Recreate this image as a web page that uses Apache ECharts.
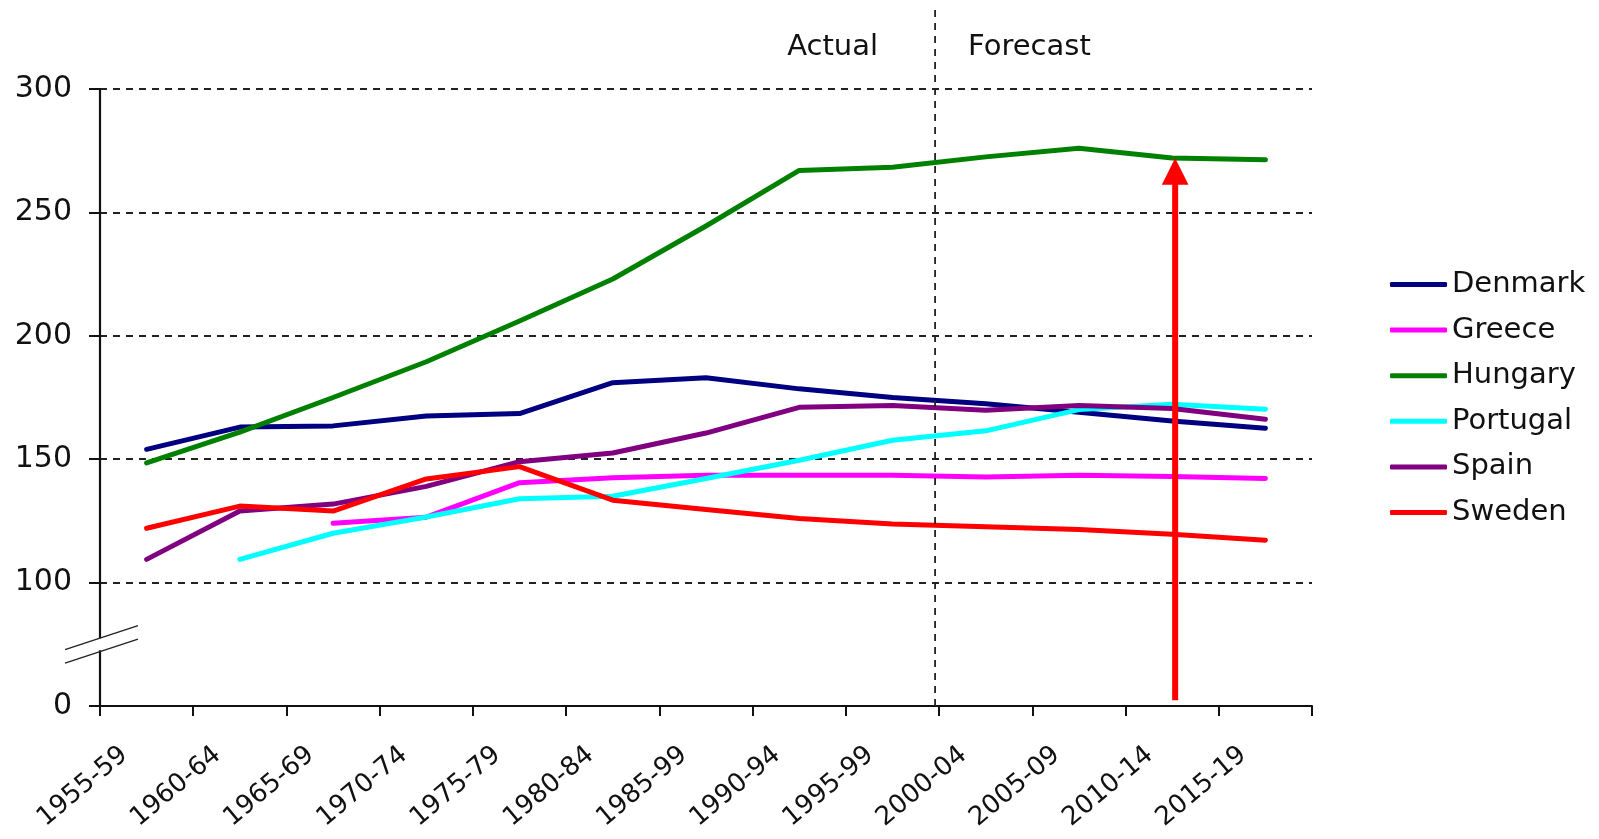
<!DOCTYPE html>
<html>
<head>
<meta charset="utf-8">
<title>Index by period</title>
<script src="https://cdn.jsdelivr.net/npm/echarts@6/dist/echarts.min.js"></script>
<style>
  html, body { margin: 0; padding: 0; background: #ffffff; }
  #chart { width: 1599px; height: 839px; }
</style>
</head>
<body>
<div id="chart"></div>
<script>
// Five-year periods on the category axis
const periods = ['1955-59', '1960-64', '1965-69', '1970-74', '1975-79', '1980-84', '1985-99',
                 '1990-94', '1995-99', '2000-04', '2005-09', '2010-14', '2015-19'];

// Series values per period (null = no figure for that period)
const denmark  = [154, 163, 163.5, 167.5, 168.5, 181, 183, 178.5, 175, 172.5, 169, 165.5, 162.5];
const greece   = [null, null, 124, 126.5, 140.5, 142.5, 143.5, 143.5, 143.5, 142.8, 143.5, 143, 142.2];
const hungary  = [148.5, 161, 175, 189.5, 206, 223, 244.5, 267, 268.3, 272.5, 276, 272, 271.3];
const portugal = [null, 109.4, 120, 126.6, 134, 135, 142.2, 149.6, 157.7, 161.5, 170.1, 172.3, 170.2];
const spain    = [109.4, 129, 131.8, 139, 149, 152.5, 160.6, 171, 171.8, 169.8, 171.8, 170.5, 166.2];
const sweden   = [122, 131, 129, 142, 147, 133.4, 129.6, 126, 123.7, 122.6, 121.5, 119.6, 117.2];

const countryNames  = ['Denmark', 'Greece', 'Hungary', 'Portugal', 'Spain', 'Sweden'];
const countryValues = [denmark, greece, hungary, portugal, spain, sweden];
const countryColors = ['#000080', '#ff00ff', '#008000', '#00ffff', '#800080', '#ff0000'];

// Value axis: the bottom of the axis stands for 0 (broken scale below 100)
const axisBottom = 50;
const axisTop = 300;
const axisStep = 50;
const breakValue = 75;

// Boundary between actual and forecast periods
const firstForecast = '2000-04';
const phaseLabels = ['Actual', 'Forecast'];

// Highlighted period for the arrow, drawn from the axis bottom up to Hungary's value
const arrowPeriod = '2010-14';
const arrowFrom = 52.3;

const FONT = 'DejaVu Sans';
const INK = '#111111';

const chart = echarts.init(document.getElementById('chart'), null, { renderer: 'canvas' });

const lineSeries = countryNames.map((name, i) => ({
  name: name,
  type: 'line',
  data: countryValues[i],
  symbol: 'none',
  showSymbol: false,
  connectNulls: false,
  color: countryColors[i],
  lineStyle: { width: 5, color: countryColors[i], join: 'round', cap: 'round' },
  emphasis: { disabled: true },
  z: 3
}));

// Divider, phase captions and axis-break marks
const decorSeries = {
  type: 'custom',
  name: 'decor',
  data: [[0]],
  silent: true,
  z: 4,
  renderItem: function (params, api) {
    const cs = params.coordSys;
    const idx = periods.indexOf(firstForecast);
    const band = api.size([1, 0])[0];
    const xDiv = api.coord([idx, axisBottom])[0] - band / 2 - 4;
    const yAxisBottom = api.coord([0, axisBottom])[1];
    const yB = api.coord([0, breakValue])[1];
    const x0 = cs.x;
    const children = [];
    children.push({
      type: 'line',
      shape: { x1: xDiv, y1: 10, x2: xDiv, y2: yAxisBottom },
      style: { stroke: '#222', lineWidth: 1.8, lineDash: [7, 6] }
    });
    children.push({
      type: 'text',
      style: { text: phaseLabels[0], x: xDiv - 57, y: 47, align: 'right', verticalAlign: 'middle',
               font: '29px "' + FONT + '"', fill: INK }
    });
    children.push({
      type: 'text',
      style: { text: phaseLabels[1], x: xDiv + 33, y: 47, align: 'left', verticalAlign: 'middle',
               font: '29px "' + FONT + '"', fill: INK }
    });
    // gap in the value axis
    children.push({
      type: 'rect',
      shape: { x: x0 - 4, y: yB - 6, width: 8, height: 12 },
      style: { fill: '#ffffff' }
    });
    [-6.7, 6.8].forEach(function (off) {
      const cx = x0 + 1.5, cy = yB + off;
      children.push({
        type: 'line',
        shape: { x1: cx - 36.5, y1: cy + 12, x2: cx + 36.5, y2: cy - 12 },
        style: { stroke: '#222', lineWidth: 1.3 }
      });
    });
    return { type: 'group', children: children };
  }
};

// Red arrow pointing at Hungary's value in the highlighted period
const arrowIdx = periods.indexOf(arrowPeriod);
const arrowSeries = {
  type: 'custom',
  name: 'arrow',
  data: [[arrowIdx, arrowFrom, hungary[arrowIdx]]],
  silent: true,
  z: 6,
  renderItem: function (params, api) {
    const base = api.coord([api.value(0), api.value(1)]);
    const tip = api.coord([api.value(0), api.value(2)]);
    const x = base[0] + 3;
    const head = 26.7;
    return {
      type: 'group',
      children: [
        { type: 'rect', shape: { x: x - 3, y: tip[1] + head - 1, width: 6, height: base[1] - tip[1] - head + 1 },
          style: { fill: '#ff0000' } },
        { type: 'polygon', shape: { points: [[x - head / 2, tip[1] + head], [x + head / 2, tip[1] + head], [x, tip[1]]] },
          style: { fill: '#ff0000' } }
      ]
    };
  }
};

const option = {
  animation: false,
  backgroundColor: '#ffffff',
  textStyle: { fontFamily: FONT },
  grid: { left: 100, top: 89, right: 287, bottom: 133, containLabel: false, outerBoundsMode: 'none' },
  legend: {
    data: countryNames,
    orient: 'vertical',
    left: 1385,
    top: 265,
    itemWidth: 57,
    itemHeight: 5,
    itemGap: 16.6,
    icon: 'roundRect',
    textStyle: { fontSize: 29, fontFamily: FONT, color: INK },
    selectedMode: false
  },
  xAxis: {
    type: 'category',
    data: periods,
    boundaryGap: true,
    axisLine: { show: true, lineStyle: { color: '#111', width: 2.2 } },
    axisTick: { show: true, length: 10, alignWithLabel: false, lineStyle: { color: '#111', width: 2 } },
    axisLabel: {
      interval: 0,
      rotate: 40,
      margin: 27,
      padding: [0, 29, 0, 0],
      fontSize: 26,
      fontFamily: FONT,
      color: INK
    },
    splitLine: { show: false }
  },
  yAxis: {
    type: 'value',
    min: axisBottom,
    max: axisTop,
    interval: axisStep,
    axisLine: { show: true, lineStyle: { color: '#111', width: 2.2 } },
    axisTick: { show: true, length: 11, lineStyle: { color: '#111', width: 2 } },
    axisLabel: {
      margin: 28,
      fontSize: 30,
      fontFamily: FONT,
      color: INK,
      formatter: function (v) { return v === axisBottom ? '0' : String(v); }
    },
    splitLine: { show: true, lineStyle: { color: '#222', width: 1.8, type: [7, 6] } }
  },
  series: lineSeries.concat([decorSeries, arrowSeries])
};

chart.setOption(option);
</script>
</body>
</html>
